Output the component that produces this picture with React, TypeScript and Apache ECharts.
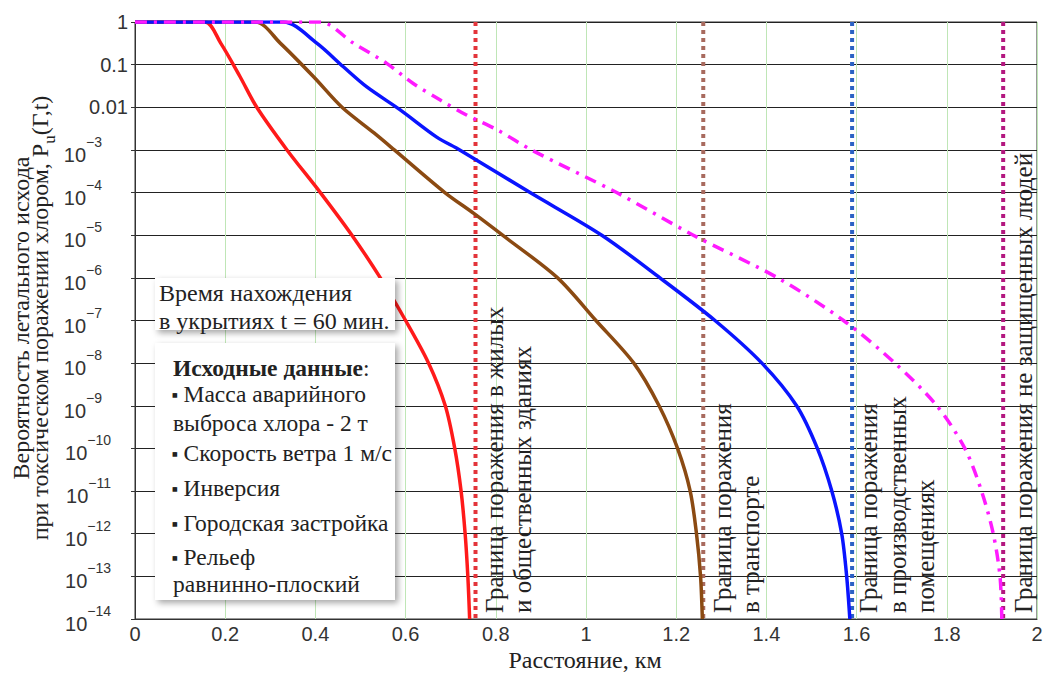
import React, { useEffect, useRef } from "react";
import * as echarts from "echarts";

const SERIF = "Liberation Serif";
const SANS = "Liberation Sans";

// Distance (km) vs lethal probability
const redCurve: [number, number][] = [
  [0, 1], [0.155, 1], [0.19, 3.2e-1], [0.233, 5.2e-2], [0.27, 1e-2], [0.337, 1e-3],
  [0.411, 1e-4], [0.481, 1e-5], [0.544, 1e-6], [0.6, 1e-7], [0.651, 1e-8],
  [0.688, 1e-9], [0.709, 1e-10], [0.723, 1e-11], [0.732, 1e-12], [0.738, 1e-13], [0.742, 1e-14],
];
const brownCurve: [number, number][] = [
  [0, 1], [0.267, 1], [0.322, 3.2e-1], [0.396, 5.2e-2], [0.459, 1e-2],
  [0.53, 2.5e-3], [0.575, 1e-3], [0.687, 1e-4], [0.752, 3.2e-5], [0.815, 1e-5],
  [0.937, 1e-6], [1.022, 1e-7], [1.106, 1e-8], [1.162, 1e-9], [1.203, 1e-10],
  [1.231, 1e-11], [1.245, 1e-12], [1.254, 1e-13], [1.258, 1e-14],
];
const blueCurve: [number, number][] = [
  [0, 1], [0.329, 1], [0.403, 3.2e-1], [0.462, 8.9e-2], [0.514, 3e-2],
  [0.588, 8.7e-3], [0.669, 2e-3], [0.72, 1e-3], [0.876, 1e-4],
  [1.035, 1e-5], [1.164, 1e-6], [1.286, 1e-7], [1.39, 1e-8], [1.467, 1e-9],
  [1.513, 1e-10], [1.545, 1e-11], [1.567, 1e-12], [1.578, 1e-13], [1.585, 1e-14],
];
const magentaCurve: [number, number][] = [
  [0, 1], [0.41, 1], [0.484, 3.2e-1], [0.558, 1.07e-1], [0.617, 3.6e-2], [0.676, 1.5e-2],
  [0.735, 6.6e-3], [0.802, 3e-3], [0.883, 9.5e-4],
  [1.068, 1e-4], [1.238, 1e-5], [1.425, 1e-6], [1.571, 1e-7], [1.685, 1e-8],
  [1.778, 1e-9], [1.84, 1e-10], [1.877, 1e-11], [1.903, 1e-12], [1.918, 1e-13], [1.922, 1e-14],
];

// Boundary distances (km)
const boundaryX = [0.755, 1.26, 1.59, 1.925];
const boundaryColors = ["#e3343a", "#a86a5e", "#2a62c4", "#b3177f"];

const yMin = 1e-14;
const yMax = 1;
const xMin = 0;
const xMax = 2;
const xStep = 0.2;

const boundaryTexts: { lines: string[]; xs: number[] }[] = [
  { lines: ["Граница поражения в жилых", "и общественных зданиях"], xs: [494, 522] },
  { lines: ["Граница поражения", "в транспорте"], xs: [722, 750] },
  { lines: ["Граница поражения", "в производственных", "помещениях"], xs: [868, 897, 925] },
  { lines: ["Граница поражения не защищенных людей"], xs: [1023] },
];

const infoLines = ["Время нахождения", "в укрытиях t = 60 мин."];

const boxLines: [string, number, number][] = [
  ["{b|Исходные данные}{n|:}", 173, 368],
  ["{bl|■}{n| Масса аварийного}", 172, 394],
  ["{n|выброса хлора - 2 т}", 173, 423],
  ["{bl|■}{n| Скорость ветра 1 м/с}", 172, 453],
  ["{bl|■}{n| Инверсия}", 172, 488],
  ["{bl|■}{n| Городская застройка}", 172, 523],
  ["{bl|■}{n| Рельеф}", 172, 557],
  ["{n|равнинно-плоский}", 173, 584],
];

export default function App() {
  const ref = useRef<HTMLDivElement>(null);
  useEffect(() => {
    const chart = echarts.init(ref.current!, null, { renderer: "svg" });

    const curveSeries = [
      { data: redCurve, color: "#ff1a1a", type: "solid" as any },
      { data: brownCurve, color: "#8b4a12", type: "solid" as any },
      { data: blueCurve, color: "#0a14ff", type: "solid" as any },
      { data: magentaCurve, color: "#ff1aff", type: [12, 7, 3, 7] as any },
    ].map((c) => ({
      type: "line",
      data: c.data,
      showSymbol: false,
      symbol: "none",
      smooth: 0.3,
      z: 5,
      lineStyle: { color: c.color, width: 3.5, type: c.type, cap: "butt", join: "round" },
    }));

    const boundarySeries = boundaryX.map((x, i) => ({
      type: "line",
      data: [
        [x, yMax],
        [x, yMin],
      ],
      showSymbol: false,
      symbol: "none",
      z: 4,
      lineStyle: { color: boundaryColors[i], width: 4, type: [4, 4], cap: "butt" },
    }));

    const graphic: any[] = [];
    // y-axis title
    graphic.push({
      type: "text",
      x: 21,
      y: 318,
      rotation: Math.PI / 2,
      style: {
        text: "Вероятность летального исхода",
        fontSize: 24,
        fontFamily: SERIF,
        fill: "#222",
        textAlign: "center",
        textVerticalAlign: "middle",
      },
    });
    graphic.push({
      type: "text",
      x: 43,
      y: 318,
      rotation: Math.PI / 2,
      style: {
        text: "{n|при токсическом поражении хлором, P}{sub|u}{n|(Γ,t)}",
        fontSize: 24,
        fontFamily: SERIF,
        fill: "#222",
        textAlign: "center",
        textVerticalAlign: "middle",
        rich: {
          n: { fontSize: 24, fontFamily: SERIF, fill: "#222", lineHeight: 30, verticalAlign: "top" },
          sub: { fontSize: 17, fontFamily: SERIF, fill: "#222", lineHeight: 17, verticalAlign: "bottom" },
        },
      },
    });
    // x-axis title
    graphic.push({
      type: "text",
      x: 585,
      y: 660,
      style: {
        text: "Расстояние, км",
        fontSize: 24,
        fontFamily: SERIF,
        fill: "#222",
        textAlign: "center",
        textVerticalAlign: "middle",
      },
    });
    // boundary texts
    boundaryTexts.forEach((b) => {
      b.lines.forEach((line, j) => {
        graphic.push({
          type: "text",
          x: b.xs[j],
          y: 613,
          rotation: Math.PI / 2,
          z: 90,
          style: {
            text: line,
            fontSize: 25,
            fontFamily: SERIF,
            fill: "#222",
            textAlign: "left",
            textVerticalAlign: "middle",
          },
        });
      });
    });
    // info box 1
    graphic.push({
      type: "rect",
      z: 100,
      shape: { x: 155, y: 278, width: 240, height: 52 },
      style: {
        fill: "#fff",
        shadowBlur: 6,
        shadowColor: "rgba(0,0,0,0.35)",
        shadowOffsetX: 3,
        shadowOffsetY: 3,
      },
    });
    infoLines.forEach((t, i) => {
      graphic.push({
        type: "text",
        z: 101,
        x: 159,
        y: 293 + i * 28,
        style: {
          text: t,
          fontSize: 24,
          fontFamily: SERIF,
          fill: "#222",
          textAlign: "left",
          textVerticalAlign: "middle",
        },
      });
    });
    // info box 2
    graphic.push({
      type: "rect",
      z: 100,
      shape: { x: 155, y: 343, width: 240, height: 257 },
      style: {
        fill: "#fff",
        shadowBlur: 6,
        shadowColor: "rgba(0,0,0,0.35)",
        shadowOffsetX: 3,
        shadowOffsetY: 3,
      },
    });
    const richBox = {
      b: { fontSize: 23.5, fontFamily: SERIF, fontWeight: "bold", fill: "#222" },
      n: { fontSize: 23.5, fontFamily: SERIF, fill: "#222" },
      bl: { fontSize: 6, fontFamily: "DejaVu Sans", fill: "#222" },
    };
    boxLines.forEach(([t, x, y]) => {
      graphic.push({
        type: "text",
        z: 101,
        x,
        y,
        style: {
          text: t,
          fontSize: 23.5,
          fontFamily: SERIF,
          rich: richBox,
          fill: "#222",
          textAlign: "left",
          textVerticalAlign: "middle",
        },
      });
    });

    const option: any = {
      animation: false,
      backgroundColor: "#fff",
      grid: {
        left: 135,
        top: 22,
        right: 12,
        bottom: 54,
        show: true,
        borderColor: "#333",
        borderWidth: 1,
        containLabel: false,
      },
      xAxis: {
        type: "value",
        min: xMin,
        max: xMax,
        interval: xStep,
        axisLine: { show: true, lineStyle: { color: "#333", width: 1 } },
        axisTick: { show: false },
        splitLine: { show: true, lineStyle: { color: "#bfe6b6", width: 1 } },
        axisLabel: {
          fontSize: 20,
          fontFamily: SANS,
          color: "#333",
          margin: 5,
          formatter: (v: number) => String(parseFloat(v.toFixed(1))),
        },
      },
      yAxis: {
        type: "log",
        logBase: 10,
        min: yMin,
        max: yMax,
        interval: 1,
        axisLine: { show: true, lineStyle: { color: "#333", width: 1 } },
        axisTick: { show: true, length: 4, lineStyle: { color: "#333" } },
        splitLine: { show: true, lineStyle: { color: "#222", width: 1 } },
        axisLabel: {
          fontFamily: SANS,
          color: "#333",
          margin: 7,
          formatter: (v: number) => {
            const e = Math.round(Math.log10(v));
            if (e === 0) return "{p|1}";
            if (e === -1) return "{p|0.1}";
            if (e === -2) return "{p|0.01}";
            const sup = "−" + String(-e);
            return `{b|10}{${-e >= 10 ? "s2" : "s1"}|${sup}}`;
          },
          rich: {
            p: { fontSize: 20, fontFamily: SANS, color: "#333" },
            b: { fontSize: 20, fontFamily: SANS, color: "#333", lineHeight: 30, verticalAlign: "bottom" },
            s1: { fontSize: 14, fontFamily: SANS, color: "#333", lineHeight: 14, verticalAlign: "top", padding: [0, 26, 0, 0] },
            s2: { fontSize: 14, fontFamily: SANS, color: "#333", lineHeight: 14, verticalAlign: "top", padding: [0, 17, 0, 0] },
          },
        },
      },
      series: [...boundarySeries, ...curveSeries],
      graphic,
    };
    chart.setOption(option);
    return () => chart.dispose();
  }, []);
  return (
    <div
      ref={ref}
      style={{ position: "fixed", left: 0, top: 0, width: 1049, height: 673, background: "#fff" }}
    />
  );
}
